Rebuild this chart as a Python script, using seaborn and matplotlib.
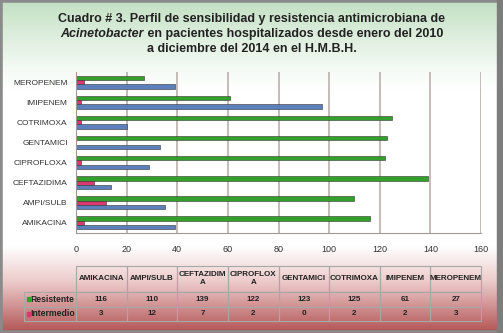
import numpy as np
import pandas as pd
import seaborn as sns
import matplotlib.pyplot as plt
from matplotlib.colors import LinearSegmentedColormap
from matplotlib.patches import Rectangle

# data (bottom to top as in the chart)
antibioticos = ["AMIKACINA", "AMPI/SULB", "CEFTAZIDIMA", "CIPROFLOXA",
                "GENTAMICI", "COTRIMOXA", "IMIPENEM", "MEROPENEM"]
tabla_cols = ["AMIKACINA", "AMPI/SULB", "CEFTAZIDIM\nA", "CIPROFLOX\nA",
              "GENTAMICI", "COTRIMOXA", "IMIPENEM", "MEROPENEM"]
resistente = [116, 110, 139, 122, 123, 125, 61, 27]
intermedio = [3, 12, 7, 2, 0, 2, 2, 3]
sensible = [39, 35, 14, 29, 33, 20, 97, 39]
series = ["Resistente", "Intermedio", "Sensible"]
x_ticks = [0, 20, 40, 60, 80, 100, 120, 140, 160]

verde = "#33a02c"
rosa = "#d63a6e"
azul = "#5d80bd"

df = pd.DataFrame({"antibiotico": antibioticos * 3,
                   "serie": np.repeat(series, len(antibioticos)),
                   "valor": resistente + intermedio + sensible})

sns.set_style("white")
plt.rcParams['font.family'] = ['Liberation Sans', 'DejaVu Sans']

W, H = 503, 333
fig = plt.figure(figsize=(W / 100, H / 100), dpi=100)

# background panel with gradient (top -> bottom)
bg = fig.add_axes([0, 0, 1, 1], zorder=-10)
bg.set_axis_off()
cmap = LinearSegmentedColormap.from_list("bg", [
    (0.0, "#c3e0c3"), (0.2, "#f4faf4"), (0.27, "#ffffff"),
    (0.74, "#ffffff"), (0.85, "#ecc9c9"), (1.0, "#b25454")])
grad = np.linspace(0, 1, 256).reshape(-1, 1)
bg.imshow(grad, aspect="auto", cmap=cmap, extent=[0, 1, 0, 1], origin="upper")
bg.set_xlim(0, 1)
bg.set_ylim(0, 1)
bg.add_patch(Rectangle((0, 0), 1, 1, fill=False, edgecolor="#8a8a8a",
                       linewidth=4, transform=bg.transAxes))
bg.add_patch(Rectangle((0.988, 0), 0.012, 1, color="#7d7d7d",
                       transform=bg.transAxes))

# title
fs_t = 9
fig.text(0.5, 1 - 19 / H, "Cuadro # 3. Perfil de sensibilidad y resistencia antimicrobiana de",
         ha="center", va="center", fontsize=fs_t, fontweight="bold", color="#222222")
t_it = fig.text(0, 1 - 34 / H, "Acinetobacter", ha="left", va="center",
                fontsize=fs_t, fontweight="bold", style="italic", color="#222222")
t_rest = fig.text(0, 1 - 34 / H, " en pacientes hospitalizados desde enero del 2010",
                  ha="left", va="center", fontsize=fs_t, fontweight="bold", color="#222222")
r = fig.canvas.get_renderer()
w1 = t_it.get_window_extent(r).width / W
w2 = t_rest.get_window_extent(r).width / W
x0 = 0.5 - (w1 + w2) / 2
t_it.set_x(x0)
t_rest.set_x(x0 + w1)
fig.text(0.5, 1 - 49 / H, "a diciembre del 2014 en el H.M.B.H.",
         ha="center", va="center", fontsize=fs_t, fontweight="bold", color="#222222")

# bars
ax = fig.add_axes([76 / W, 1 - 233 / H, 405 / W, 161 / H])
ax.set_facecolor("none")
sns.barplot(data=df, x="valor", y="antibiotico", hue="serie",
            order=antibioticos[::-1], hue_order=series,
            palette=[verde, rosa, azul], orient="h", width=0.64,
            edgecolor="#333333", linewidth=0.4, saturation=1, ax=ax, legend=False)
ax.set_xlim(0, 160)
ax.set_xticks(x_ticks)
ax.grid(axis="x", color="#b5aaa5", linewidth=1.1)
ax.set_axisbelow(True)
ax.set_xlabel("")
ax.set_ylabel("")
for s in ["top", "right"]:
    ax.spines[s].set_visible(False)
for s in ["left", "bottom"]:
    ax.spines[s].set_color("#a09a96")
ax.tick_params(axis="x", labelsize=6.5, colors="#333333", pad=9, length=0)
ax.tick_params(axis="y", labelsize=6, colors="#333333", pad=6, length=0)

# data table
tax = fig.add_axes([24 / W, 1 - 321 / H, 457 / W, 55 / H])
tax.set_axis_off()
cell_text = [[""] + tabla_cols,
             ["Resistente"] + [str(v) for v in resistente],
             ["Intermedio"] + [str(v) for v in intermedio]]
tbl = tax.table(cellText=cell_text, bbox=[0, 0, 1, 1], cellLoc="center")
tbl.auto_set_font_size(False)
tbl.set_fontsize(5.8)
col_w = [52] + [50.6] * 8
row_h = [26, 14.5, 14.5]
for (i, j), cell in tbl.get_celld().items():
    cell.set_width(col_w[j])
    cell.set_height(row_h[i])
    cell.set_facecolor("none")
    cell.set_edgecolor("#a8a8a8")
    cell.set_linewidth(0.8)
    cell.get_text().set_fontweight("bold")
    cell.get_text().set_color("#222222")
    if j == 0:
        cell.get_text().set_ha("left")
        cell.PAD = 0.13
        cell._loc = "left"
        cell.get_text().set_fontsize(6.2)
    if i == 0 and j == 0:
        cell.visible_edges = ""
for k, c in enumerate([verde, rosa]):
    yc = 1 - (row_h[0] + row_h[1] * k + row_h[1] / 2) / 55
    tax.add_patch(Rectangle((0.007, yc - 0.035), 0.0055, 0.07, color=c,
                            transform=tax.transAxes))

fig.savefig("out.png", dpi=100)
